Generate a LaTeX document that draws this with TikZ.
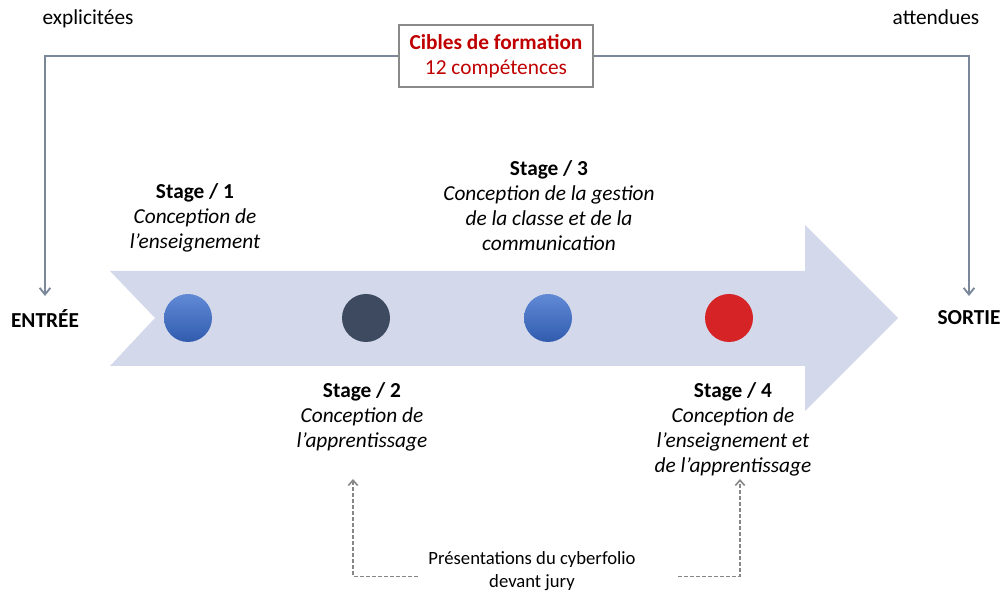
\documentclass[tikz,border=0pt]{standalone}
\usepackage{fontspec}
\setmainfont{Carlito}
\usetikzlibrary{arrows.meta,positioning}

\definecolor{chevron}{RGB}{211,216,234}
\definecolor{linkgray}{RGB}{122,136,154}
\definecolor{boxgray}{RGB}{138,138,138}
\definecolor{cibred}{RGB}{192,0,0}
\definecolor{dashgray}{RGB}{135,135,135}
\definecolor{dotblue}{RGB}{58,108,204}
\definecolor{dotdark}{RGB}{62,74,96}
\definecolor{dotred}{RGB}{214,36,38}

\begin{document}
\begin{tikzpicture}[x=0.75pt,y=-0.75pt,
  txt/.style={font=\fontsize{16}{18.75}\selectfont, align=center, inner sep=0pt},
  small/.style={txt, font=\fontsize{14}{17.5}\selectfont},
  dot/.style={circle, minimum size=36pt, inner sep=0pt},
  link/.style={draw=linkgray, line width=1.4pt, -{Straight Barb[length=5pt,width=8pt]}},
  jurylink/.style={draw=dashgray, line width=1.2pt, dash pattern=on 3pt off 1.5pt, -{Straight Barb[length=4pt,width=7pt]}}]

\useasboundingbox (0,0) rectangle (1001,598);

% Big arrow
\fill[chevron] (110,271) -- (805,271) -- (805,225) -- (898,318) -- (805,411)
  -- (805,366) -- (110,366) -- (155,318) -- cycle;

% Stage dots
\node[dot, top color=dotblue!80!white, bottom color=dotblue!85!black] (d1) at (188,318) {};
\node[dot, fill=dotdark] (d2) at (366,318) {};
\node[dot, top color=dotblue!80!white, bottom color=dotblue!85!black] (d3) at (548,318) {};
\node[dot, fill=dotred] (d4) at (729,318) {};

% Stage labels
\node[txt, anchor=north] (s1) at (195,183) {\textbf{Stage / 1}\\ \textit{Conception de}\\ \textit{l’enseignement}};
\node[txt, anchor=north] (s3) at (549,160) {\textbf{Stage / 3}\\ \textit{Conception de la gestion}\\ \textit{de la classe et de la}\\ \textit{communication}};
\node[txt, anchor=north] (s2) at (362,382) {\textbf{Stage / 2}\\ \textit{Conception de}\\ \textit{l’apprentissage}};
\node[txt, anchor=north] (s4) at (733,382) {\textbf{Stage / 4}\\ \textit{Conception de}\\ \textit{l’enseignement et}\\ \textit{de l’apprentissage}};

% Entry and exit
\node[txt, anchor=base] (entree) at (45,328) {\textbf{ENTRÉE}};
\node[txt, anchor=base] (sortie) at (969,325) {\textbf{SORTIE}};
\node[txt, anchor=base] (expl) at (88,25) {explicitées};
\node[txt, anchor=base] (att) at (936,25) {attendues};

% Targets box
\node[txt, draw=boxgray, line width=1.4pt, fill=white, text=cibred,
  minimum width=146pt, minimum height=47pt] (cibles) at (496,56)
  {\textbf{Cibles de formation}\\12 compétences};

\coordinate (inE) at (45,296);
\coordinate (outS) at (969,296);
\draw[link] (cibles.west) -| (inE);
\draw[link] (cibles.east) -| (outS);

% Jury presentations
\node[small, anchor=north, inner xsep=8pt] (pres) at (532,551) {Présentations du cyberfolio\\devant jury};
\coordinate (j2) at (353,479);
\coordinate (j4) at (740,479);
\draw[jurylink] ([yshift=-4pt]pres.west) -| (j2);
\draw[jurylink, shorten <=24pt] ([yshift=-4pt]pres.east) -| (j4);

\end{tikzpicture}
\end{document}
